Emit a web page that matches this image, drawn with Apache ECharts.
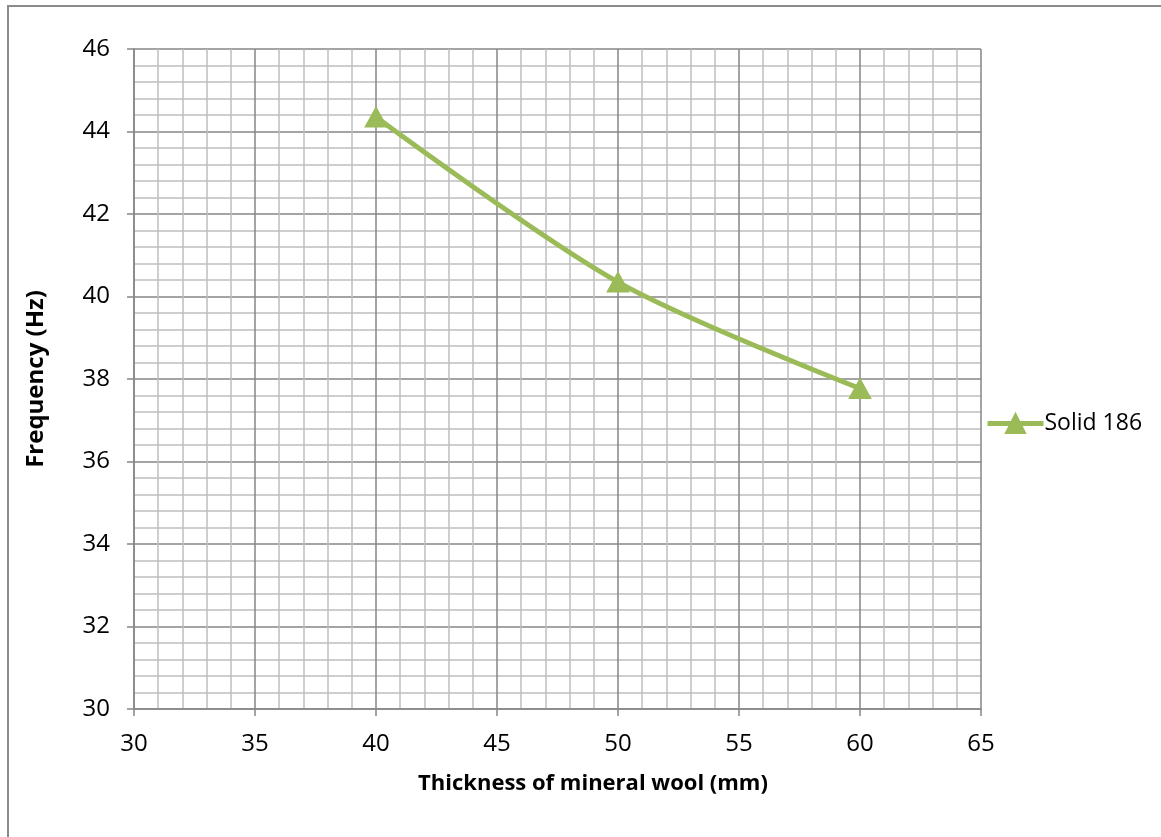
<!DOCTYPE html>
<html>
<head>
<meta charset="utf-8">
<script src="https://cdn.jsdelivr.net/npm/echarts@6/dist/echarts.min.js"></script>
<style>
  html, body { margin: 0; padding: 0; background: #fff; }
  #chart { width: 1161px; height: 837px; }
</style>
</head>
<body>
<div id="chart"></div>
<script>
// Measured resonance frequency against insulation thickness
const thickness = [40, 50, 60];
const frequency = [44.35, 40.35, 37.77];
const seriesName = 'Solid 186';
const xTitle = 'Thickness of mineral wool (mm)';
const yTitle = 'Frequency (Hz)';

const FONT = '"Open Sans", "Liberation Sans", sans-serif';
const GREEN = '#9BBB59';
const MAJOR = '#868686';
const MINOR = '#BFBFBF';

const chart = echarts.init(document.getElementById('chart'), null, { renderer: 'canvas' });

chart.setOption({
  animation: false,
  backgroundColor: '#fff',
  textStyle: { fontFamily: FONT },
  graphic: [{
    type: 'rect',
    shape: { x: 8, y: 6, width: 1200, height: 900 },
    style: { fill: 'none', stroke: '#8c8c8c', lineWidth: 2 },
    silent: true
  }],
  title: {
    text: xTitle,
    left: 588,
    top: 768,
    textAlign: 'center',
    textStyle: { fontFamily: FONT, fontSize: 22, fontWeight: 'bold', color: '#000' }
  },
  grid: { left: 134, top: 49, width: 847, height: 660, containLabel: false },
  legend: {
    data: [seriesName],
    left: 985,
    top: 412,
    padding: 0,
    itemWidth: 56,
    itemHeight: 24,
    itemGap: 0,
    lineStyle: { width: 5, color: GREEN },
    textStyle: { fontFamily: FONT, fontSize: 23, color: '#000', padding: [0, 0, 0, -4] }
  },
  xAxis: {
    type: 'value',
    min: 30, max: 65, interval: 5,
    axisLine: { show: true, onZero: false, lineStyle: { color: MAJOR, width: 1.5 } },
    axisTick: { show: true, length: 7, lineStyle: { color: MAJOR, width: 1.5 } },
    minorTick: { show: false, splitNumber: 5 },
    splitLine: { show: true, lineStyle: { color: MAJOR, width: 1.5 } },
    minorSplitLine: { show: true, lineStyle: { color: MINOR, width: 1.5 } },
    axisLabel: { fontFamily: FONT, fontSize: 24, color: '#000', margin: 23 }
  },
  yAxis: {
    type: 'value',
    min: 30, max: 46, interval: 2,
    name: yTitle,
    nameLocation: 'middle',
    nameGap: 86,
    nameTextStyle: { fontFamily: FONT, fontSize: 24, fontWeight: 'bold', color: '#000' },
    axisLine: { show: true, onZero: false, lineStyle: { color: MAJOR, width: 1.5 } },
    axisTick: { show: true, length: 7, lineStyle: { color: MAJOR, width: 1.5 } },
    minorTick: { show: false, splitNumber: 5 },
    splitLine: { show: true, lineStyle: { color: MAJOR, width: 1.5 } },
    minorSplitLine: { show: true, lineStyle: { color: MINOR, width: 1.5 } },
    axisLabel: { fontFamily: FONT, fontSize: 24, color: '#000', margin: 24 }
  },
  series: [{
    name: seriesName,
    type: 'line',
    data: thickness.map((t, i) => [t, frequency[i]]),
    smooth: 0.3,
    symbol: 'triangle',
    symbolSize: [22, 20],
    showAllSymbol: true,
    lineStyle: { color: GREEN, width: 5 },
    itemStyle: { color: GREEN, borderColor: GREEN, borderWidth: 1 },
    z: 5
  }]
});
</script>
</body>
</html>
